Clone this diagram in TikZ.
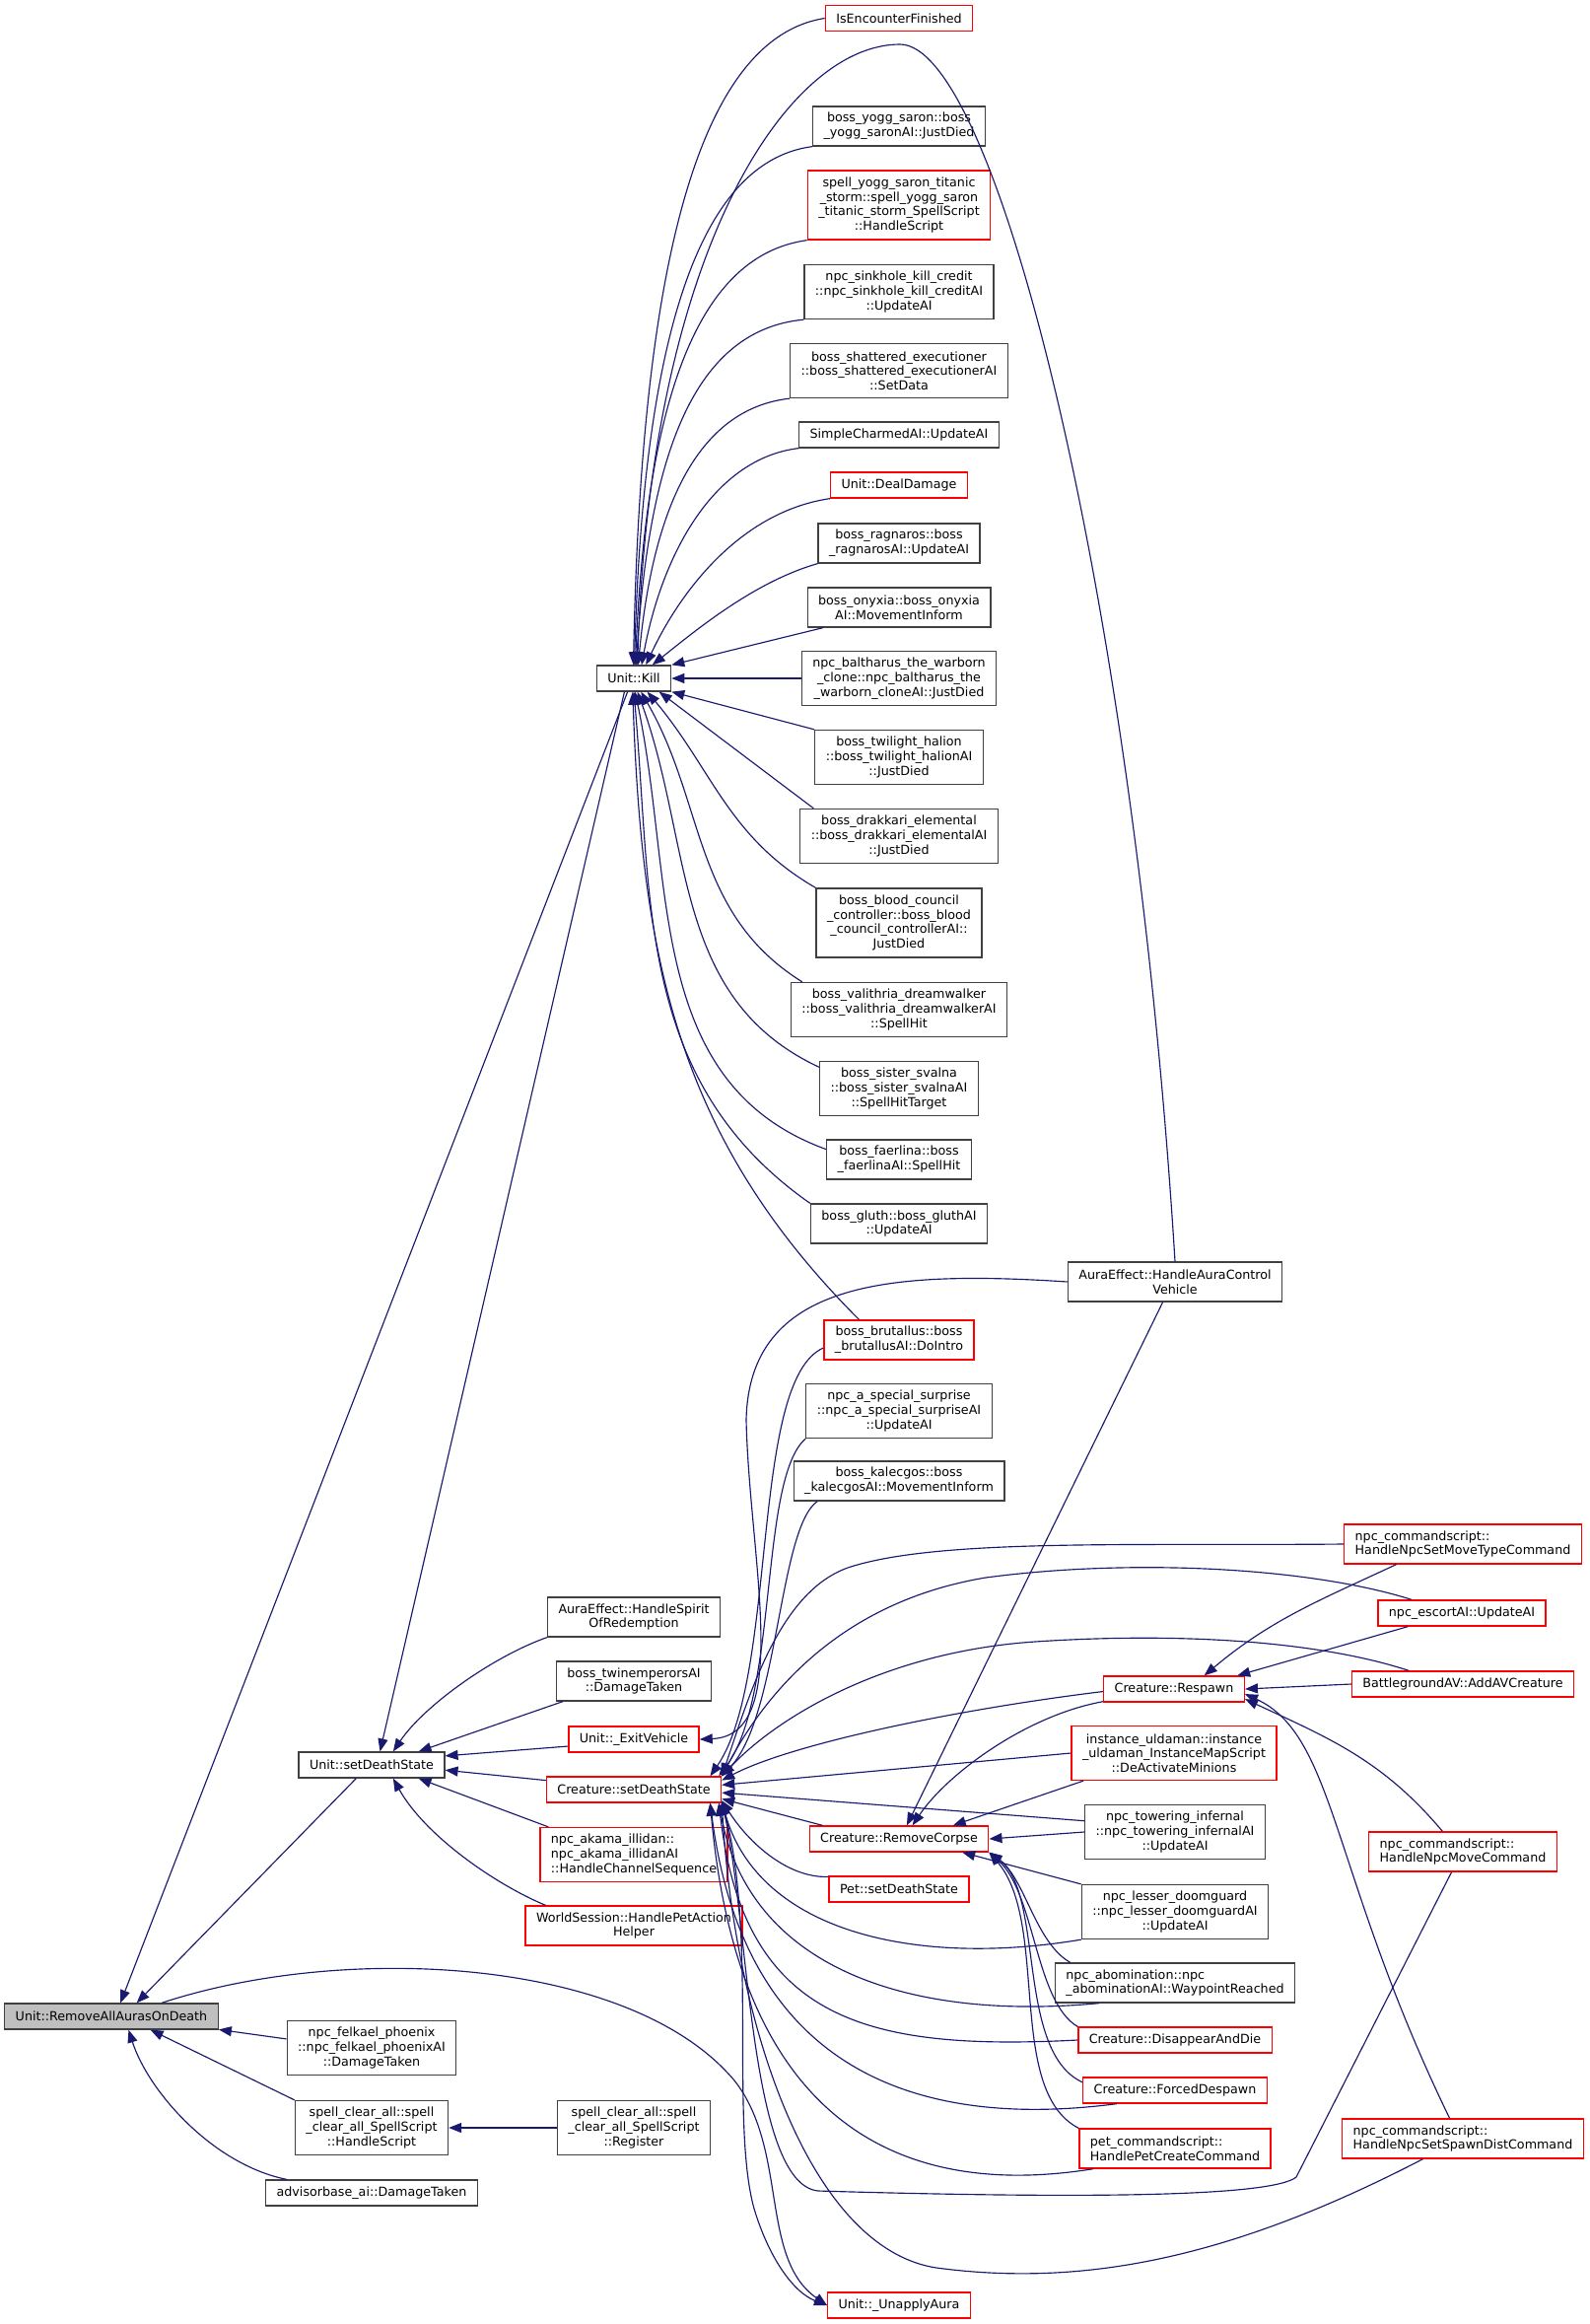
\documentclass[tikz,border=0pt]{standalone}
\usepackage{fontspec}
\setmainfont{DejaVu Sans}
\usepackage{tikz}
\usetikzlibrary{arrows.meta,positioning}
\definecolor{edgeblue}{RGB}{25,25,112}
\definecolor{rootgray}{RGB}{191,191,191}
\newcommand{\doxfont}{\fontsize{12.7}{14.7}\selectfont}

\begin{document}
\begin{tikzpicture}[x=1pt, y=-1pt,
    fn/.style={draw=black!75, fill=white, line width=1.3pt, font=\doxfont, align=center, inner xsep=11pt, inner ysep=2pt, minimum height=26pt},
    fnred/.style={fn, draw=red},
    fnroot/.style={fn, fill=rootgray},
    lines2/.style={minimum height=40pt},
    lines3/.style={minimum height=55pt},
    lines4/.style={minimum height=70pt},
    call/.style={-{Triangle[length=13pt, width=10pt]}, draw=edgeblue, line width=1.15pt},
]
    \useasboundingbox (0,0) rectangle (1613,2357);

    % Root
    \node[fnroot] (raaod) at (113,2045) {Unit::RemoveAllAurasOnDeath};

    % Direct callers
    \node[fn] (usds) at (377,1790) {Unit::setDeathState};
    \node[fn, lines3] (felkael) at (377,2077) {npc\_felkael\_phoenix\\::npc\_felkael\_phoenixAI\\::DamageTaken};
    \node[fn, lines3] (clearhs) at (377,2158) {spell\_clear\_all::spell\\\_clear\_all\_SpellScript\\::HandleScript};
    \node[fn] (advisor) at (377,2224) {advisorbase\_ai::DamageTaken};

    % Second level
    \node[fn] (kill) at (643,688) {Unit::Kill};
    \node[fn, lines2] (spirit) at (643,1640) {AuraEffect::HandleSpirit\\OfRedemption};
    \node[fn, lines2] (twin) at (643,1705) {boss\_twinemperorsAI\\::DamageTaken};
    \node[fnred] (exitveh) at (643,1764) {Unit::\_ExitVehicle};
    \node[fnred] (csds) at (643,1815) {Creature::setDeathState};
    \node[fnred, lines3, align=left] (akama) at (643,1881) {npc\_akama\_illidan::\\npc\_akama\_illidanAI\\::HandleChannelSequence};
    \node[fnred, lines2] (petaction) at (643,1953) {WorldSession::HandlePetAction\\Helper};
    \node[fn, lines3] (clearreg) at (643,2158) {spell\_clear\_all::spell\\\_clear\_all\_SpellScript\\::Register};

    % Third level - callers of Unit::Kill
    \node[fnred] (isenc) at (912,18.5) {IsEncounterFinished};
    \node[fn, lines2] (yogg) at (912,128) {boss\_yogg\_saron::boss\\\_yogg\_saronAI::JustDied};
    \node[fnred, lines4] (titanic) at (912,208) {spell\_yogg\_saron\_titanic\\\_storm::spell\_yogg\_saron\\\_titanic\_storm\_SpellScript\\::HandleScript};
    \node[fn, lines3] (sinkhole) at (912,296) {npc\_sinkhole\_kill\_credit\\::npc\_sinkhole\_kill\_creditAI\\::UpdateAI};
    \node[fn, lines3] (shattered) at (912,376) {boss\_shattered\_executioner\\::boss\_shattered\_executionerAI\\::SetData};
    \node[fn] (charmed) at (912,441) {SimpleCharmedAI::UpdateAI};
    \node[fnred] (dealdmg) at (912,492) {Unit::DealDamage};
    \node[fn, lines2] (ragnaros) at (912,551) {boss\_ragnaros::boss\\\_ragnarosAI::UpdateAI};
    \node[fn, lines2] (onyxia) at (912,616) {boss\_onyxia::boss\_onyxia\\AI::MovementInform};
    \node[fn, lines3] (baltharus) at (912,688) {npc\_baltharus\_the\_warborn\\\_clone::npc\_baltharus\_the\\\_warborn\_cloneAI::JustDied};
    \node[fn, lines3] (halion) at (912,768) {boss\_twilight\_halion\\::boss\_twilight\_halionAI\\::JustDied};
    \node[fn, lines3] (drakkari) at (912,848) {boss\_drakkari\_elemental\\::boss\_drakkari\_elementalAI\\::JustDied};
    \node[fn, lines4] (council) at (912,936) {boss\_blood\_council\\\_controller::boss\_blood\\\_council\_controllerAI::\\JustDied};
    \node[fn, lines3] (valithria) at (912,1024) {boss\_valithria\_dreamwalker\\::boss\_valithria\_dreamwalkerAI\\::SpellHit};
    \node[fn, lines3] (svalna) at (912,1104) {boss\_sister\_svalna\\::boss\_sister\_svalnaAI\\::SpellHitTarget};
    \node[fn, lines2] (faerlina) at (912,1176) {boss\_faerlina::boss\\\_faerlinaAI::SpellHit};
    \node[fn, lines2] (gluth) at (912,1241) {boss\_gluth::boss\_gluthAI\\::UpdateAI};
    \node[fnred, lines2] (brutallus) at (912,1359) {boss\_brutallus::boss\\\_brutallusAI::DoIntro};
    \node[fn, lines3] (surprise) at (912,1431) {npc\_a\_special\_surprise\\::npc\_a\_special\_surpriseAI\\::UpdateAI};
    \node[fn, lines2] (kalecgos) at (912,1502) {boss\_kalecgos::boss\\\_kalecgosAI::MovementInform};
    \node[fnred] (corpse) at (912,1865) {Creature::RemoveCorpse};
    \node[fnred] (petsds) at (912,1916) {Pet::setDeathState};
    \node[fnred] (unapply) at (912,2338) {Unit::\_UnapplyAura};

    % Fourth level
    \node[fn, lines2] (vehicle) at (1192,1300) {AuraEffect::HandleAuraControl\\Vehicle};
    \node[fnred] (respawn) at (1191,1713) {Creature::Respawn};
    \node[fnred, lines3] (uldaman) at (1191,1778) {instance\_uldaman::instance\\\_uldaman\_InstanceMapScript\\::DeActivateMinions};
    \node[fn, lines3] (towering) at (1192,1858) {npc\_towering\_infernal\\::npc\_towering\_infernalAI\\::UpdateAI};
    \node[fn, lines3] (doomguard) at (1192,1939) {npc\_lesser\_doomguard\\::npc\_lesser\_doomguardAI\\::UpdateAI};
    \node[fn, lines2, align=left] (abomination) at (1192,2011) {npc\_abomination::npc\\\_abominationAI::WaypointReached};
    \node[fnred] (disappear) at (1192,2069) {Creature::DisappearAndDie};
    \node[fnred] (despawn) at (1192,2120) {Creature::ForcedDespawn};
    \node[fnred, lines2, align=left] (petcreate) at (1192,2179) {pet\_commandscript::\\HandlePetCreateCommand};

    % Fifth level
    \node[fnred, lines2, align=left] (movetype) at (1484,1566) {npc\_commandscript::\\HandleNpcSetMoveTypeCommand};
    \node[fnred] (escort) at (1483,1636) {npc\_escortAI::UpdateAI};
    \node[fnred] (bgav) at (1484,1708) {BattlegroundAV::AddAVCreature};
    \node[fnred, lines2, align=left] (npcmove) at (1484,1878) {npc\_commandscript::\\HandleNpcMoveCommand};
    \node[fnred, lines2, align=left] (spawndist) at (1484,2169) {npc\_commandscript::\\HandleNpcSetSpawnDistCommand};

    % Calls into Unit::RemoveAllAurasOnDeath
    \draw[call] (kill.-115) -- (raaod.56);
    \draw[call] (usds.221) -- (raaod.28);
    \draw[call] (felkael.174) -- (raaod.-7);
    \draw[call] (clearhs.north west) -- (raaod.-19);
    \draw[call] (advisor.171) .. controls (215,2195) and (150,2120) .. (raaod.-38);
    \draw[call] (clearreg.west) -- (clearhs.east);

    % Calls into Unit::setDeathState
    \draw[call] (kill.-125) -- (usds.58);
    \draw[call] (spirit.south west) .. controls (500,1680) and (430,1730) .. (usds.32);
    \draw[call] (twin.196) -- (usds.16);
    \draw[call] (exitveh.186) -- (usds.7);
    \draw[call] (csds.174) -- (usds.-4);
    \draw[call] (akama.162) -- (usds.-16);
    \draw[call] (petaction.167) .. controls (500,1910) and (430,1860) .. (usds.-32);

    % Calls into Unit::Kill
    \draw[call] (isenc.west) .. controls (700,40) and (650,300) .. (kill.92);
    \draw[call] (yogg.south west) .. controls (700,165) and (652,370) .. (kill.88);
    \draw[call] (titanic.south west) .. controls (700,260) and (655,425) .. (kill.84);
    \draw[call] (sinkhole.south west) .. controls (700,335) and (658,470) .. (kill.80);
    \draw[call] (shattered.south west) .. controls (705,415) and (662,520) .. (kill.72);
    \draw[call] (charmed.south west) .. controls (725,465) and (672,560) .. (kill.60);
    \draw[call] (dealdmg.south west) .. controls (745,520) and (685,610) .. (kill.48);
    \draw[call] (ragnaros.south west) .. controls (765,590) and (705,640) .. (kill.36);
    \draw[call] (onyxia.195) -- (kill.north east);
    \draw[call] (baltharus.west) -- (kill.east);
    \draw[call] (halion.north west) -- (kill.south east);
    \draw[call] (drakkari.162) -- (kill.-28);
    \draw[call] (council.north west) to[out=150,in=-50] (kill.-45);
    \draw[call] (valithria.164) to[out=148,in=-60] (kill.-62);
    \draw[call] (svalna.165) to[out=155,in=-70] (kill.-75);
    \draw[call] (faerlina.172) to[out=160,in=-78] (kill.-85);
    \draw[call] (gluth.north west) to[out=145,in=-85] (kill.-90);
    \draw[call] (brutallus.153) to[out=135,in=-88] (kill.-95);
    \draw[call] (vehicle.north) .. controls (1150,600) and (1010,45) .. (913,45) .. controls (800,45) and (660,250) .. (kill.75);

    % Calls into Unit::_ExitVehicle
    \draw[call] (vehicle.west) .. controls (900,1288) and (760,1300) .. (757,1440) .. controls (760,1580) and (805,1760) .. (exitveh.east);

    % Calls into Creature::setDeathState
    \draw[call] (brutallus.186) .. controls (760,1400) and (790,1700) .. (csds.10);
    \draw[call] (surprise.south west) .. controls (770,1500) and (790,1720) .. (csds.9);
    \draw[call] (kalecgos.194) .. controls (790,1550) and (790,1740) .. (csds.north east);
    \draw[call] (movetype.west) .. controls (1150,1568) and (950,1560) .. (860,1590) .. controls (790,1615) and (760,1720) .. (csds.north east);
    \draw[call] (escort.165) .. controls (1330,1590) and (1150,1580) .. (1000,1600) .. controls (850,1625) and (775,1720) .. (csds.north east);
    \draw[call] (bgav.166) .. controls (1340,1665) and (1200,1655) .. (1050,1665) .. controls (900,1675) and (790,1740) .. (csds.north east);
    \draw[call] (respawn.182) .. controls (960,1735) and (800,1770) .. (csds.6);
    \draw[call] (uldaman.west) -- (csds.3);
    \draw[call] (towering.173) -- (csds.-2);
    \draw[call] (corpse.170) -- (csds.-6);
    \draw[call] (petsds.170) .. controls (800,1905) and (760,1870) .. (csds.-7);
    \draw[call] (doomguard.south west) .. controls (930,1995) and (770,1960) .. (csds.-8);
    \draw[call] (abomination.195) .. controls (920,2050) and (760,1995) .. (csds.-9);
    \draw[call] (disappear.west) .. controls (880,2080) and (755,2050) .. (csds.-9);
    \draw[call] (despawn.193) .. controls (930,2160) and (755,2100) .. (csds.-10);
    \draw[call] (petcreate.194) .. controls (920,2230) and (750,2160) .. (csds.-10);
    \draw[call] (npcmove.241) -- (1315,2208) .. controls (1290,2228) and (1100,2230) .. (830,2222) .. controls (760,2215) and (760,1950) .. (csds.-8);
    \draw[call] (spawndist.207) .. controls (1250,2290) and (1100,2320) .. (950,2300) .. controls (820,2280) and (745,2050) .. (csds.-8);

    % Calls into Unit::_UnapplyAura
    \draw[call] (raaod.15) .. controls (350,1970) and (640,1985) .. (745,2110) .. controls (800,2180) and (770,2290) .. (unapply.west);
    \draw[call] (csds.-8) .. controls (770,1950) and (740,2150) .. (765,2240) .. controls (780,2290) and (805,2325) .. (unapply.west);

    % Calls into Creature::RemoveCorpse
    \draw[call] (vehicle.239) -- (corpse.60);
    \draw[call] (respawn.190) .. controls (1040,1740) and (960,1800) .. (corpse.45);
    \draw[call] (uldaman.197) -- (corpse.14);
    \draw[call] (towering.west) -- (corpse.east);
    \draw[call] (doomguard.north west) -- (corpse.-12);
    \draw[call] (abomination.169) .. controls (1050,1970) and (1040,1905) .. (corpse.south east);
    \draw[call] (disappear.north west) .. controls (1050,2030) and (1050,1920) .. (corpse.south east);
    \draw[call] (despawn.175) .. controls (1030,2080) and (1060,1920) .. (corpse.south east);
    \draw[call] (petcreate.north west) .. controls (1020,2120) and (1065,1950) .. (corpse.south east);

    % Calls into Creature::Respawn
    \draw[call] (movetype.197) to[out=205,in=40] (respawn.24);
    \draw[call] (escort.194) -- (respawn.12);
    \draw[call] (bgav.west) -- (respawn.east);
    \draw[call] (npcmove.135) to[out=130,in=-25] (respawn.-8);
    \draw[call] (spawndist.123) .. controls (1350,1900) and (1355,1760) .. (respawn.-4);
\end{tikzpicture}
\end{document}
